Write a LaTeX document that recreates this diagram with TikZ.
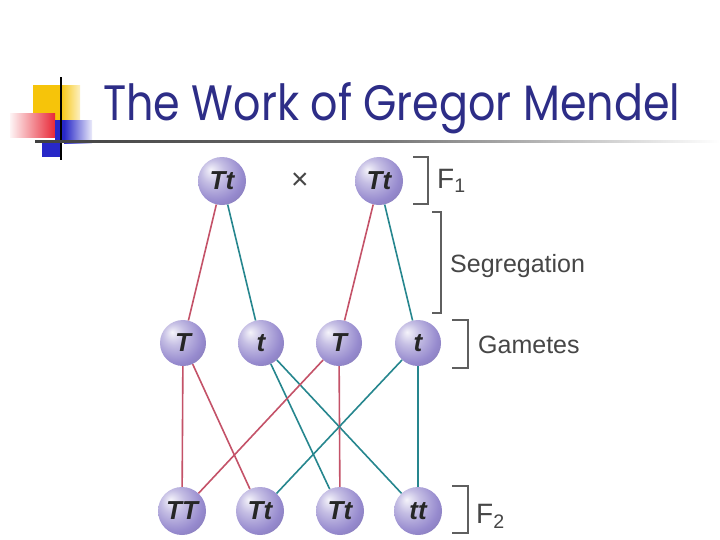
\documentclass[tikz,border=0pt]{standalone}
\usepackage{fontspec}
\setmainfont{Liberation Sans}
\newfontfamily\titlefont{Poppins}
\usepackage{graphicx}
\definecolor{lav}{RGB}{150,138,206}
\definecolor{titleblue}{RGB}{45,45,135}
\definecolor{redline}{RGB}{196,82,104}
\definecolor{tealline}{RGB}{38,134,142}
\definecolor{labgray}{RGB}{70,70,70}
\definecolor{brgray}{RGB}{95,95,95}
\definecolor{decoyellow}{RGB}{246,196,10}
\definecolor{decored}{RGB}{232,40,55}
\definecolor{decoblue}{RGB}{40,40,200}
\pgfdeclareradialshading{sph}{\pgfqpoint{-12bp}{12bp}}{color(0bp)=(lav!10!white); color(12bp)=(lav!55!white); color(28bp)=(lav); color(45bp)=(lav!80!black); color(65bp)=(lav!62!black)}
\begin{document}
\begin{tikzpicture}[x=1pt,y=-1pt,
  ball/.style={circle,shading=sph,minimum size=48pt,inner sep=0pt,font=\fontsize{26}{26}\selectfont\bfseries\itshape,text=black!85},
  gam/.style={ball,minimum size=46pt},
  rl/.style={draw=redline,line width=1.6pt},
  tl/.style={draw=tealline,line width=1.6pt},
  brk/.style={draw=brgray,line width=1.8pt},
  lab/.style={anchor=base west,inner sep=0pt,text=labgray,font=\fontsize{25}{25}\selectfont},
  flab/.style={anchor=base west,inner sep=0pt,text=labgray,font=\fontsize{28}{28}\selectfont}]
\useasboundingbox (0,0) rectangle (720,539);
\fill[white] (0,0) rectangle (720,539);
% decoration
\shade[left color=decoyellow,right color=decoyellow!25!white] (60,85) rectangle (80,120);
\fill[decoyellow] (33,85) rectangle (61,120);
\shade[left color=decored!5!white,right color=decored] (10,113) rectangle (55,137);
\shade[left color=decoblue,right color=decoblue!10!white] (64,120) rectangle (92,143);
\fill[decoblue] (55,120) rectangle (65,143);
\fill[decoblue] (42,141) rectangle (62,157);
\draw[black,line width=1.5pt] (61,77) -- (61,160);
\shade[left color=black!75,right color=white,middle color=black!55] (35,140) rectangle (720,142.5);
% title
\node[anchor=base west,inner sep=0pt,text=titleblue] (title) at (103,120) {\resizebox{577pt}{38pt}{\titlefont\fontsize{40}{40}\selectfont The Work of Gregor Mendel}};
% nodes
\node[ball] (p1) at (222,181) {Tt};
\node[ball] (p2) at (379,181) {Tt};
\node[text=labgray,font=\fontsize{30}{30}\selectfont] (x) at (300,181) {×};
\node[gam] (g1) at (183,343) {T};
\node[gam] (g2) at (261,343) {t};
\node[gam] (g3) at (339,343) {T};
\node[gam] (g4) at (418,343) {t};
\node[ball] (f1) at (182,511) {TT};
\node[ball] (f2) at (260,511) {Tt};
\node[ball] (f3) at (340,511) {Tt};
\node[ball] (f4) at (418,511) {tt};
% connectors
\draw[rl] (p1) -- (g1);
\draw[tl] (p1) -- (g2);
\draw[rl] (p2) -- (g3);
\draw[tl] (p2) -- (g4);
\draw[rl] (g1) -- (f1);
\draw[rl] (g1) -- (f2);
\draw[tl] (g2) -- (f3);
\draw[tl] (g2) -- (f4);
\draw[rl] (g3) -- (f1);
\draw[rl] (g3) -- (f3);
\draw[tl] (g4) -- (f2);
\draw[tl] (g4) -- (f4);
% brackets
\draw[brk] (413,157) -- (428,157) -- (428,204) -- (413,204);
\draw[brk] (432,212) -- (441,212) -- (441,313) -- (432,313);
\draw[brk] (452,320) -- (468,320) -- (468,368) -- (452,368);
\draw[brk] (452,486) -- (468,486) -- (468,533) -- (452,533);
\node[flab] (lf1) at (437,188) {F\textsubscript{1}};
\node[lab] (lseg) at (450,272) {Segregation};
\node[lab] (lgam) at (478,353) {Gametes};
\node[flab] (lf2) at (476,523) {F\textsubscript{2}};
\end{tikzpicture}
\end{document}
